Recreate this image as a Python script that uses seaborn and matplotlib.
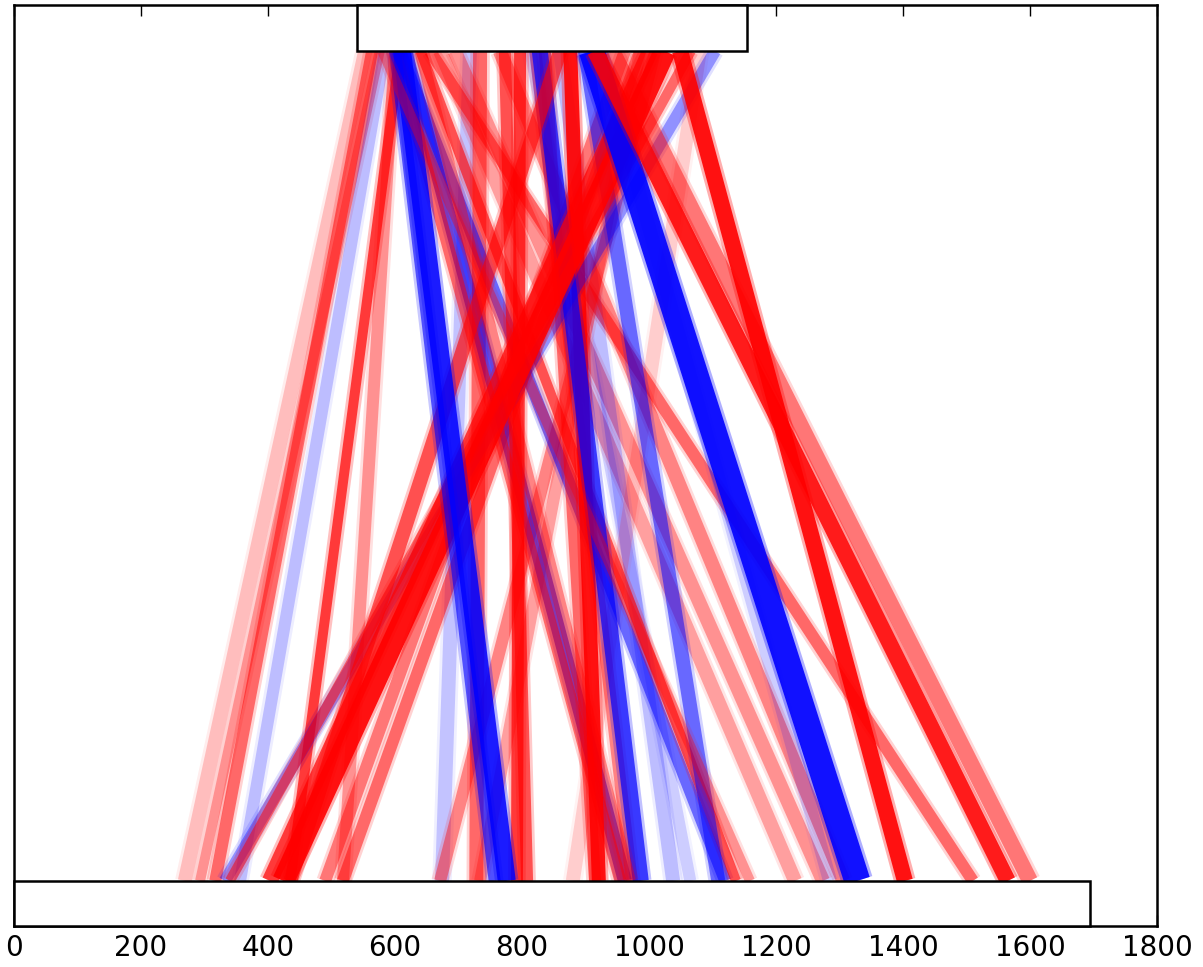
import numpy as np
import pandas as pd
import seaborn as sns
import matplotlib.pyplot as plt
from matplotlib.patches import Rectangle

# contig lengths (top contig sits at an offset above the reference)
top_start, top_end = 540, 1154
bottom_start, bottom_end = 0, 1694

# links: position on top contig -> position on bottom contig
top_pos = [553, 564, 576, 584, 600, 608, 718, 734, 655, 671, 694, 813, 860,
           1080, 986, 962, 986, 1010, 616, 608, 640, 600, 836, 773, 797, 876,
           765, 821, 828, 899, 923, 1104, 1066, 860, 1002, 1025, 600, 611,
           910, 1049, 915, 942, 640, 580]
bottom_pos = [269, 317, 293, 356, 518, 435, 674, 728, 1510, 1230, 1274, 1065,
              1038, 880, 734, 490, 518, 671, 962, 1120, 1137, 955, 915, 808,
              792, 921, 1306, 973, 987, 1109, 1285, 332, 340, 435, 403, 424,
              757, 776, 1328, 1403, 1565, 1600, 970, 1159]
strand = ['+', '+', '+', '-', '+', '+', '-', '+', '+', '+', '+', '-', '-',
          '+', '+', '+', '+', '+', '-', '-', '+', '+', '+', '+', '+', '+',
          '+', '+', '-', '-', '-', '-', '+', '+', '+', '+', '-', '-',
          '-', '+', '+', '+', '+', '+']
identity = [0.2, 0.5, 0.35, 0.2, 0.35, 0.7, 0.18, 0.5, 0.5, 0.3, 0.35, 0.15,
            0.2, 0.15, 0.3, 0.45, 0.5, 0.4, 0.6, 0.5, 0.6, 0.5, 0.5, 0.6,
            0.7, 0.9, 0.4, 0.4, 0.7, 0.5, 0.15, 0.35, 0.5, 0.6, 0.7, 0.9,
            0.6, 0.85, 0.9, 0.9, 0.85, 0.45, 0.4, 0.35]
block = [14, 12, 10, 12, 12, 10, 14, 14, 12, 14, 14, 12, 14, 14, 12, 12, 12,
         12, 14, 12, 10, 12, 12, 12, 12, 14, 14, 12, 16, 14, 14, 12, 10, 14,
         16, 22, 12, 18, 26, 16, 16, 16, 12, 10]

links = pd.DataFrame({'top': top_pos, 'bottom': bottom_pos, 'strand': strand,
                      'identity': identity, 'block': block})

sns.set_style('white')
plt.rcParams['font.family'] = ['DejaVu Sans']
plt.rcParams['text.color'] = 'black'
plt.rcParams['xtick.color'] = 'black'

fig = plt.figure(figsize=(12.03, 9.67), dpi=100)
ax = fig.add_axes([14 / 1203, 41 / 967, 1143 / 1203, 921 / 967])

y_top, y_bot = 0.95, 0.049
colors = {'+': (1, 0, 0), '-': (0, 0, 1)}
# each link is drawn as a soft bundle: a wide faint stroke under the main one
for _, row in links.iterrows():
    xs = [row['top'], row['bottom']]
    ax.plot(xs, [y_top, y_bot], color=colors[row['strand']],
            alpha=row['identity'] * 0.35, lw=row['block'] * 0.72 + 4,
            solid_capstyle='butt', zorder=2)
    ax.plot(xs, [y_top, y_bot], color=colors[row['strand']],
            alpha=row['identity'], lw=row['block'] * 0.72,
            solid_capstyle='butt', zorder=2)

ax.add_patch(Rectangle((top_start, y_top), top_end - top_start, 1 - y_top,
                       facecolor='white', edgecolor='black', lw=1.8, zorder=5,
                       clip_on=False))
ax.add_patch(Rectangle((bottom_start, 0), bottom_end - bottom_start, y_bot,
                       facecolor='white', edgecolor='black', lw=1.8, zorder=5,
                       clip_on=False))

ax.set_xlim(0, 1800)
ax.set_ylim(0, 1)
ax.set_xticks(range(0, 1801, 200))
ax.set_yticks([])
ax.tick_params(axis='x', direction='in', length=8, width=1, top=True,
               bottom=True, labelsize=20, pad=6, color='black',
               labelcolor='black')
for s in ax.spines.values():
    s.set_linewidth(1.8)
    s.set_color('black')

fig.savefig('out.png', dpi=100)
